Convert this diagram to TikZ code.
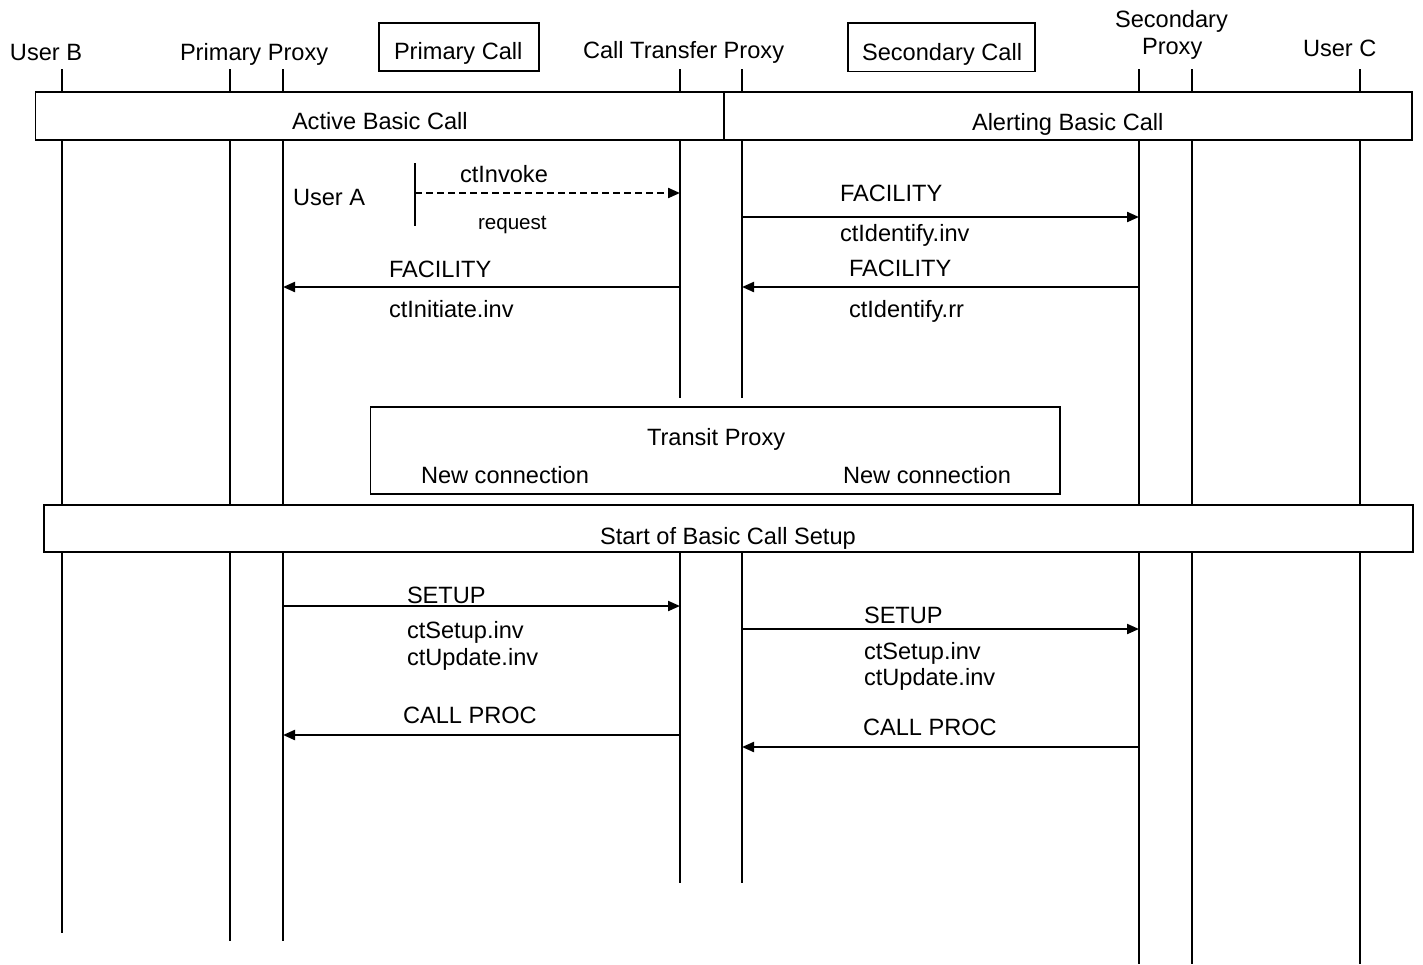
\documentclass[tikz,border=0pt]{standalone}
\usepackage{fontspec}
\setmainfont{Liberation Sans}
\usetikzlibrary{arrows.meta}
\begin{document}
\begin{tikzpicture}[x=0.5pt,y=-0.5pt,
  every node/.style={font=\fontsize{11.8}{14}\selectfont, inner sep=0pt, outer sep=0pt},
  lbl/.style={anchor=base west},
  small/.style={font=\fontsize{10.3}{12}\selectfont},
  lifeline/.style={line width=0.75pt},
  frame/.style={draw, line width=0.8pt, fill=white, anchor=north west},
  msg/.style={line width=1.05pt, -{Triangle[length=6pt,width=5pt]}},
  dmsg/.style={msg, dash pattern=on 3.5pt off 2pt}]
\useasboundingbox (0,0) rectangle (1423,964);

% participants
\node[lbl] (hUB)  at (10,60)   {User B};
\node[lbl] (hPP)  at (180,60)  {Primary Proxy};
\node[frame, minimum width=80pt, minimum height=24pt] (boxPC) at (379,23) {};
\node[lbl] (hPC)  at (394,59)  {Primary Call};
\node[lbl] (hCTP) at (583,58)  {Call Transfer Proxy};
\node[frame, minimum width=93.5pt, minimum height=24.2pt] (boxSC) at (848,23) {};
\node[lbl] (hSC)  at (862,60)  {Secondary Call};
\node[lbl] (hSP1) at (1115,27) {Secondary};
\node[lbl] (hSP2) at (1142,54) {Proxy};
\node[lbl] (hUC)  at (1303,56) {User C};

% lifeline tops
\foreach \n/\x in {ub/62, ppL/230, ppR/283, ctpL/680, ctpR/742, spL/1139, spR/1192, uc/1360}
  \coordinate (\n) at (\x,69);

\draw[lifeline] (ub)  -- (ub  |- 0,933);
\draw[lifeline] (ppL) -- (ppL |- 0,941);
\draw[lifeline] (ppR) -- (ppR |- 0,941);
\draw[lifeline] (ctpL) -- (ctpL |- 0,398);
\draw[lifeline] (ctpR) -- (ctpR |- 0,398);
\draw[lifeline] (ctpL |- 0,553) -- (ctpL |- 0,883);
\draw[lifeline] (ctpR |- 0,553) -- (ctpR |- 0,883);
\draw[lifeline] (spL) -- (spL |- 0,964);
\draw[lifeline] (spR) -- (spR |- 0,964);
\draw[lifeline] (uc)  -- (uc  |- 0,964);

% call state bars
\node[frame, minimum width=344.25pt, minimum height=24pt] (barActive) at (35.5,92) {};
\node[frame, minimum width=344pt, minimum height=24pt] (barAlert) at (724,92) {};
\node[lbl] (tActive) at (292,129) {Active Basic Call};
\node[lbl] (tAlert)  at (972,130) {Alerting Basic Call};

% transfer invocation by User A
\coordinate (uaT) at (415,163);
\coordinate (uaB) at (415,226);
\draw[lifeline] (uaT) -- (uaB);
\node[lbl] (tUA) at (293,205) {User A};
\draw[dmsg] (uaT |- 0,193) -- (ctpL |- 0,193);
\node[lbl] (tInv) at (460,182) {ctInvoke};
\node[lbl, small] (tReq) at (478,229) {request};

% identify / initiate
\draw[msg] (ctpR |- 0,217) -- (spL |- 0,217);
\node[lbl] (f1) at (840,201) {FACILITY};
\node[lbl] (f1b) at (840,241) {ctIdentify.inv};
\draw[msg] (spL |- 0,287) -- (ctpR |- 0,287);
\node[lbl] (f2) at (849,276) {FACILITY};
\node[lbl] (f2b) at (849,317) {ctIdentify.rr};
\draw[msg] (ctpL |- 0,287) -- (ppR |- 0,287);
\node[lbl] (f3) at (389,277) {FACILITY};
\node[lbl] (f3b) at (389,317) {ctInitiate.inv};

% transit proxy
\node[frame, minimum width=344.75pt, minimum height=43.5pt] (transit) at (370.5,407) {};
\node[lbl] (tTP)  at (647,445) {Transit Proxy};
\node[lbl] (tNC1) at (421,483) {New connection};
\node[lbl] (tNC2) at (843,483) {New connection};

% new call setup
\node[frame, minimum width=684.5pt, minimum height=23.5pt] (barSetup) at (44,505) {};
\node[lbl] (tSetup) at (600,544) {Start of Basic Call Setup};

\draw[msg] (ppR |- 0,606) -- (ctpL |- 0,606);
\node[lbl] (s1)  at (407,603) {SETUP};
\node[lbl] (s1b) at (407,638) {ctSetup.inv};
\node[lbl] (s1c) at (407,665) {ctUpdate.inv};
\draw[msg] (ctpL |- 0,735) -- (ppR |- 0,735);
\node[lbl] (cp1) at (403,723) {CALL PROC};

\draw[msg] (ctpR |- 0,629) -- (spL |- 0,629);
\node[lbl] (s2)  at (864,623) {SETUP};
\node[lbl] (s2b) at (864,659) {ctSetup.inv};
\node[lbl] (s2c) at (864,685) {ctUpdate.inv};
\draw[msg] (spL |- 0,747) -- (ctpR |- 0,747);
\node[lbl] (cp2) at (863,735) {CALL PROC};
\end{tikzpicture}
\end{document}
